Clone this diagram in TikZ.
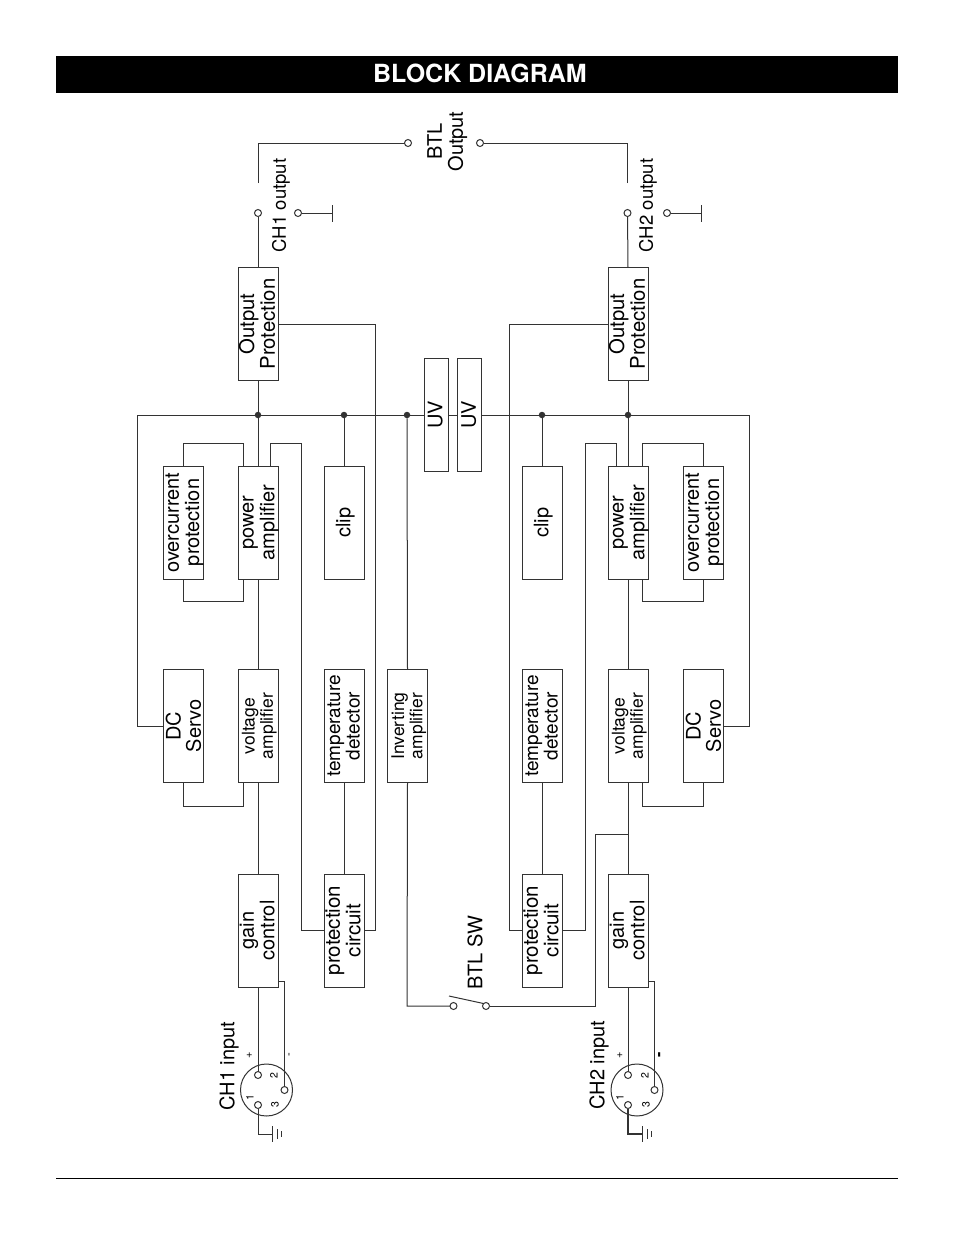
\documentclass[tikz,border=0pt]{standalone}
\usepackage{fontspec}
\setmainfont{TeX Gyre Heros}
\definecolor{ln}{HTML}{333333}
\newcommand{\rottext}[2][20]{\makebox[0pt][c]{\kern4pt\rotatebox{90}{\fontsize{#1}{#1}\selectfont\begin{tabular}{@{}c@{}}#2\end{tabular}}}}
\newcommand{\rottight}[1]{\makebox[0pt][c]{\kern6pt\rotatebox{90}{\fontsize{20}{18}\selectfont\begin{tabular}{@{}c@{}}#1\end{tabular}}}}
\tikzset{
  wire/.style={draw=ln,line width=1pt,line join=miter},
  thickwire/.style={draw=ln,line width=1.6pt},
  block/.style={draw=ln,line width=1pt,fill=white,minimum width=40pt,minimum height=#1,inner sep=0pt,outer sep=0pt,align=center},
  block/.default=113pt,
  pin/.style={circle,draw=ln,line width=1pt,fill=white,minimum size=7pt,inner sep=0pt,outer sep=0pt},
  dot/.style={circle,fill=ln,minimum size=6.5pt,inner sep=0pt,outer sep=0pt},
  lab/.style={text=black,inner sep=0pt,outer sep=0pt},
}
\begin{document}
\begin{tikzpicture}[x=1pt,y=-1pt]
\useasboundingbox (0,0) rectangle (954,1235);
\fill[white] (0,0) rectangle (954,1235);
% title and footer
\node[fill=black,minimum width=842pt,minimum height=37pt,inner sep=0pt,text=white,font=\fontsize{25}{25}\selectfont\bfseries] (title) at (477,74.5) {\kern6pt\raisebox{3pt}{BLOCK DIAGRAM}};
\coordinate (footL) at (56,1178);
\coordinate (footR) at (898,1178);
\draw[draw=black,line width=0.8pt] (footL) -- (footR);
% blocks
\node[block] (op1) at (258,324) {\rottext[20.3]{Output\\Protection}};
\node[block] (op2) at (628,324) {\rottext[20.3]{Output\\Protection}};
\node[block] (oc1) at (183,522.5) {\rottext{overcurrent\\protection}};
\node[block] (pa1) at (258,522.5) {\rottext{power\\amplifier}};
\node[block] (cl1) at (344,522.5) {\rottext{clip}};
\node[block] (cl2) at (542,522.5) {\rottext{clip}};
\node[block] (pa2) at (628,522.5) {\rottext{power\\amplifier}};
\node[block] (oc2) at (703,522.5) {\rottext{overcurrent\\protection}};
\node[block] (dc1) at (183,726) {\rottight{DC\\Servo}};
\node[block] (va1) at (258,726) {\rottext[17.5]{voltage\\amplifier}};
\node[block] (td1) at (344,726) {\rottext[19]{temperature\\detector}};
\node[block] (ia) at (407.5,726) {\rottext[17.5]{Inverting\\amplifier}};
\node[block] (td2) at (542,726) {\rottext[19]{temperature\\detector}};
\node[block] (va2) at (628,726) {\rottext[17.5]{voltage\\amplifier}};
\node[block] (dc2) at (703,726) {\rottight{DC\\Servo}};
\node[block] (gc1) at (258,930.5) {\rottext{gain\\control}};
\node[block] (pc1) at (344,930.5) {\rottext[20.5]{protection\\circuit}};
\node[block] (pc2) at (542,930.5) {\rottext[20.5]{protection\\circuit}};
\node[block] (gc2) at (628,930.5) {\rottext{gain\\control}};
\node[block,minimum width=24pt] (uv1) at (436,415) {\rottext{UV}};
\node[block,minimum width=24pt] (uv2) at (469.5,415) {\rottext{UV}};
% bus dots
\node[dot] (d1) at (258,415) {};
\node[dot] (d2) at (344,415) {};
\node[dot] (d3) at (407,415) {};
\node[dot] (d4) at (542,415) {};
\node[dot] (d5) at (628,415) {};
% bus
\draw[wire] (dc1.west) -- (137,726) -- (137,415) -- (d1) -- (d2) -- (d3) -- (uv1.west);
\draw[wire] (uv1.east) -- (uv2.west);
\draw[wire] (uv2.east) -- (d4) -- (d5) -- (749,415) -- (749,726) -- (dc2.east);
% left channel
\draw[wire] (op1.south) -- (d1) -- (pa1.north);
\draw[wire] (pa1.south) -- (va1.north);
\draw[wire] (va1.south) -- (gc1.north);
\draw[wire] (oc1.north) -- (183,443) -- (243,443) -- ([xshift=-15pt]pa1.north);
\draw[wire] (oc1.south) -- (183,601) -- (243,601) -- ([xshift=-15pt]pa1.south);
\draw[wire] (dc1.south) -- (183,806) -- (243,806) -- ([xshift=-15pt]va1.south);
\draw[wire] ([xshift=12pt]pa1.north) -- (270,443) -- (301,443) -- (301,930.5) -- (pc1.west);
\draw[wire] (op1.east) -- (375,324) -- (375,930.5) -- (pc1.east);
\draw[wire] (d2) -- (cl1.north);
\draw[wire] (td1.south) -- (pc1.north);
\draw[wire] (d3) -- (ia.north);
% right channel
\draw[wire] (op2.south) -- (d5) -- (pa2.north);
\draw[wire] (pa2.south) -- (va2.north);
\draw[wire] (va2.south) -- (gc2.north);
\draw[wire] (oc2.north) -- (703,443) -- (642,443) -- ([xshift=14pt]pa2.north);
\draw[wire] (oc2.south) -- (703,601) -- (642,601) -- ([xshift=14pt]pa2.south);
\draw[wire] (dc2.south) -- (703,806) -- (642,806) -- ([xshift=14pt]va2.south);
\draw[wire] ([xshift=-12pt]pa2.north) -- (616,443) -- (585,443) -- (585,930.5) -- (pc2.east);
\draw[wire] (op2.west) -- (509,324) -- (509,930.5) -- (pc2.west);
\draw[wire] (d4) -- (cl2.north);
\draw[wire] (td2.south) -- (pc2.north);
% BTL switch
\node[pin] (sw1) at (453.5,1006) {};
\node[pin] (sw2) at (486,1006) {};
\coordinate (swa) at (449,996);
\coordinate (swb) at (483.5,1003.5);
\coordinate (sjoin) at (628,834);
\draw[wire] (ia.south) -- (407,1006) -- (sw1);
\draw[wire] (swa) -- (swb);
\draw[wire] (sw2) -- (595,1006) -- (595,834) -- (sjoin);
% outputs
\node[pin] (o1) at (258,213) {};
\node[pin] (o1g) at (298,213) {};
\node[pin] (o2) at (627.5,213) {};
\node[pin] (o2g) at (667,213) {};
\node[pin] (btlL) at (408,143) {};
\node[pin] (btlR) at (480,143) {};
\coordinate (c1open) at (258,183);
\coordinate (c2open) at (627.5,183);
\coordinate (g1) at (332,213);
\coordinate (g2) at (701,213);
\draw[wire] (op1.north) -- (o1);
\draw[wire] (op2.north) -- (o2);
\draw[wire] (c1open) -- (258,143) -- (btlL);
\draw[wire] (c2open) -- (627.5,143) -- (btlR);
\draw[wire] (o1g) -- (g1);
\draw[wire] (o2g) -- (g2);
\draw[wire] (332,205) -- (332,222);
\draw[wire] (701,205) -- (701,222);
% connector 1
\node[circle,draw=ln,line width=1pt,minimum size=52pt,inner sep=0pt] (xl1) at (266.5,1090) {};
\node[pin] (p1a) at (258,1075) {};
\node[pin] (p1b) at (284.5,1090) {};
\node[pin] (p1c) at (258,1105) {};
\draw[wire] (gc1.south) -- (p1a);
\draw[wire] ([yshift=6pt]gc1.south east) -- (284.5,981) -- (p1b);
\draw[wire] (p1c) -- (258,1134) -- (272,1134);
\draw[wire] (272,1126) -- (272,1142);
\draw[wire] (277,1129) -- (277,1139);
\draw[wire] (281,1131) -- (281,1137);
% connector 2
\node[circle,draw=ln,line width=1pt,minimum size=52pt,inner sep=0pt] (xl2) at (637,1090) {};
\node[pin] (p2a) at (628,1075) {};
\node[pin] (p2b) at (654.5,1090) {};
\node[pin] (p2c) at (628,1105) {};
\draw[wire] (gc2.south) -- (p2a);
\draw[wire] ([yshift=6pt]gc2.south east) -- (654.5,981) -- (p2b);
\draw[thickwire] (p2c) -- (628,1134) -- (642,1134);
\draw[wire] (642,1126) -- (642,1142);
\draw[wire] (647,1129) -- (647,1139);
\draw[wire] (651,1131) -- (651,1137);
% labels
\node[lab,rotate=90,font=\fontsize{20}{20}\selectfont] (t1) at (229,1066) {CH1 input};
\node[lab,rotate=90,font=\fontsize{20}{20}\selectfont] (t2) at (599,1065) {CH2 input};
\node[lab,rotate=90,font=\fontsize{11}{11}\selectfont] (tp1) at (249.5,1055) {+};
\node[lab,rotate=90,font=\fontsize{11}{11}\selectfont] (tm1) at (290.5,1055) {-};
\node[lab,rotate=90,font=\fontsize{10.5}{10.5}\selectfont] (tn1) at (250,1098) {1};
\node[lab,rotate=90,font=\fontsize{10.5}{10.5}\selectfont] (tn2) at (274,1076) {2};
\node[lab,rotate=90,font=\fontsize{10.5}{10.5}\selectfont] (tn3) at (275,1105) {3};
\node[lab,rotate=90,font=\fontsize{11}{11}\selectfont] (tp2) at (620,1055) {+};
\node[lab,rotate=90,font=\fontsize{16}{16}\selectfont\bfseries] (tm2) at (661,1055) {-};
\node[lab,rotate=90,font=\fontsize{10.5}{10.5}\selectfont] (tn4) at (620,1098) {1};
\node[lab,rotate=90,font=\fontsize{10.5}{10.5}\selectfont] (tn5) at (645,1076) {2};
\node[lab,rotate=90,font=\fontsize{10.5}{10.5}\selectfont] (tn6) at (646,1105) {3};
\node[lab,rotate=90,font=\fontsize{18.5}{18.5}\selectfont] (t3) at (281,205.5) {CH1 output};
\node[lab,rotate=90,font=\fontsize{18.5}{18.5}\selectfont] (t4) at (648,205.5) {CH2 output};
\node[lab,rotate=90,font=\fontsize{20}{20}\selectfont] (t5) at (475,953) {BTL SW};
\node[lab] (t6) at (446,141.5) {\rottext{BTL\\Output}};
\end{tikzpicture}
\end{document}
